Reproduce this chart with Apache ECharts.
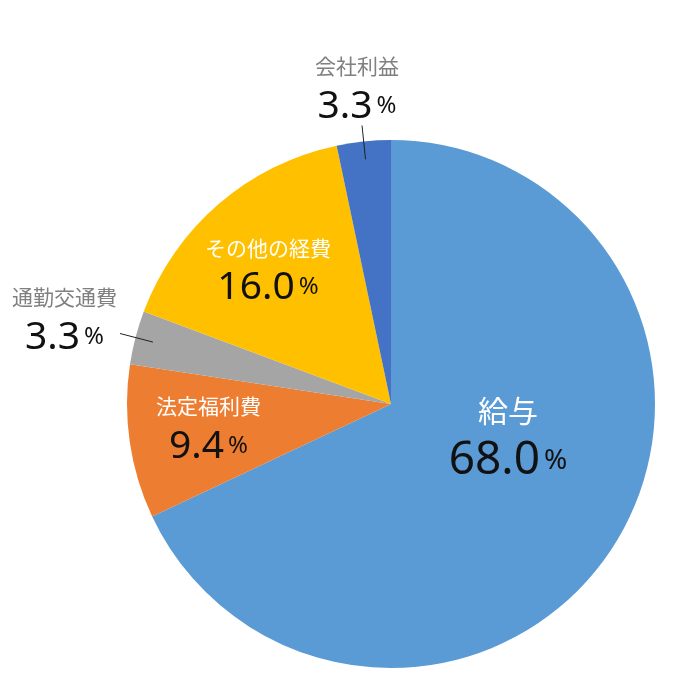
<!DOCTYPE html>
<html>
<head>
<meta charset="utf-8">
<script src="https://cdn.jsdelivr.net/npm/echarts@6/dist/echarts.min.js"></script>
<style>
  html, body { margin: 0; padding: 0; background: #fff; }
  #main { width: 673px; height: 694px; }
</style>
</head>
<body>
<div id="main"></div>
<script>
var categories = ['給与', '法定福利費', '通勤交通費', 'その他の経費', '会社利益'];
var values = [68.0, 9.4, 3.3, 16.0, 3.3];
var colors = ['#5B9BD5', '#ED7D31', '#A5A5A5', '#FFC000', '#4472C4'];
// inside = label drawn on the slice, otherwise outside with a leader line
var insideLabel = [true, true, false, true, false];
// label nudges (px) after the default placement
var labelShift = [[3, -40], [-49, 5], [2, -14], [-35, -32], [42, -37]];

var chart = document.getElementById('main');
if (chart == null) {
    throw "ERROR! getElementById() Null: main";
}
var myChart = echarts.init(chart);

var fontName = '"Noto Sans CJK JP", "Noto Sans", sans-serif';

function labelText(i) {
    var big = (i == 0);
    var nameStyle = insideLabel[i] ? (big ? 'nb' : 'nw') : 'ng';
    return '{' + nameStyle + '|' + categories[i] + '}\n' +
        '{' + (big ? 'vb' : 'v') + '|' + values[i].toFixed(1) + '}' +
        '{' + (big ? 'pb' : 'p') + '|%}';
}

var richStyles = {
    nb: { fontSize: 30, color: '#fff', fontFamily: fontName, lineHeight: 50, align: 'center' },
    nw: { fontSize: 21, color: '#fff', fontFamily: fontName, lineHeight: 36, align: 'center' },
    ng: { fontSize: 21, color: '#808080', fontFamily: fontName, lineHeight: 36, align: 'center' },
    vb: { fontSize: 46, color: '#111', fontFamily: 'Noto Sans', lineHeight: 52, align: 'center' },
    v: { fontSize: 39, color: '#111', fontFamily: 'Noto Sans', lineHeight: 44, align: 'center' },
    pb: { fontSize: 28, color: '#111', fontFamily: 'Noto Sans', padding: [0, 0, 0, 4], lineHeight: 52, align: 'center' },
    p: { fontSize: 24, color: '#111', fontFamily: 'Noto Sans', padding: [0, 0, 0, 4], lineHeight: 44, align: 'center' }
};

// visible pie: carries the inside labels
var pieData = [];
// hidden, slightly smaller pie: carries the outside labels so leader lines start inside the slice
var guideData = [];
for (var i = 0; i < categories.length; i++) {
    pieData.push({
        name: categories[i],
        value: values[i],
        itemStyle: { color: colors[i] },
        label: { show: insideLabel[i], position: 'inside', formatter: labelText(i) }
    });
    guideData.push({
        name: categories[i],
        value: values[i],
        label: { show: !insideLabel[i], position: 'outside', formatter: labelText(i) },
        labelLine: { show: !insideLabel[i] }
    });
}

var option = {
    animation: false,
    series: [
        {
            type: 'pie',
            center: [391, 404],
            radius: 264,
            startAngle: 90,
            clockwise: true,
            data: pieData,
            label: { fontFamily: fontName, align: 'center', rich: richStyles },
            labelLine: { show: false },
            labelLayout: function (params) {
                var s = labelShift[params.dataIndex];
                return { dx: s[0], dy: s[1] };
            }
        },
        {
            type: 'pie',
            center: [391, 404],
            radius: 246,
            startAngle: 90,
            clockwise: true,
            silent: true,
            z: 3,
            data: guideData,
            itemStyle: { color: 'rgba(0,0,0,0)' },
            label: { fontFamily: fontName, align: 'center', rich: richStyles },
            labelLine: {
                length: 34,
                length2: 0,
                lineStyle: { color: '#222', width: 1 }
            },
            labelLayout: function (params) {
                var s = labelShift[params.dataIndex];
                return { dx: s[0], dy: s[1] };
            }
        }
    ]
};

myChart.setOption(option);
</script>
</body>
</html>
